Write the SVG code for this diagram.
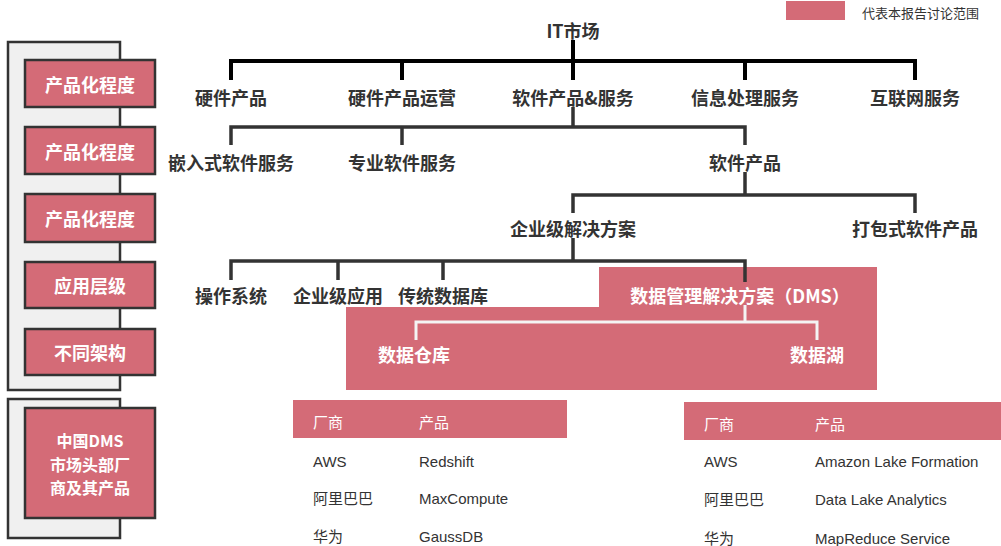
<svg xmlns="http://www.w3.org/2000/svg" width="1001" height="546" viewBox="0 0 1001 546">
<style>
.t{font-family:"Noto Sans CJK SC","Liberation Sans",sans-serif;font-size:18px;font-weight:bold;fill:#333;text-anchor:middle;dominant-baseline:central}
.w{fill:#fff}
.s{font-size:16px}
.tb{font-family:"Liberation Sans","Noto Sans CJK SC",sans-serif;font-size:15px;fill:#333;dominant-baseline:central}
.th{fill:#fff}
.red{fill:#d46b77}
.box{fill:#d46b77;stroke:#333;stroke-width:2.5}
.panel{fill:#f0f0f0;stroke:#333;stroke-width:2.5}
.c1{fill:none;stroke:#000;stroke-width:4}
.c2{fill:none;stroke:#333;stroke-width:3.5}
.c3{fill:none;stroke:#f4f4f4;stroke-width:3}
</style>
<rect width="1001" height="546" fill="#fff"/>
<g id="legend">
<rect class="red" x="786" y="1" width="59" height="19"/>
<text class="tb" x="862" y="12" style="font-size:13px;font-family:'Noto Sans CJK SC',sans-serif">代表本报告讨论范围</text>
</g>
<g id="left-panel">
<rect class="panel" x="8" y="42" width="112" height="348"/>
<g id="lb1"><rect class="box" x="25" y="60" width="130" height="47"/><text class="t w" x="90" y="83.5">产品化程度</text></g>
<g id="lb2"><rect class="box" x="25" y="127" width="130" height="47"/><text class="t w" x="90" y="150.5">产品化程度</text></g>
<g id="lb3"><rect class="box" x="25" y="194" width="130" height="48"/><text class="t w" x="90" y="218">产品化程度</text></g>
<g id="lb4"><rect class="box" x="25" y="262" width="130" height="46"/><text class="t w" x="90" y="285">应用层级</text></g>
<g id="lb5"><rect class="box" x="25" y="329" width="130" height="46"/><text class="t w" x="90" y="352">不同架构</text></g>
</g>
<g id="left-panel2">
<rect class="panel" x="8" y="399" width="112" height="139"/>
<g id="lb6"><rect class="box" x="25" y="408" width="130" height="110"/>
<text class="t w s" x="90" y="440">中国DMS</text><text class="t w s" x="90" y="463.5">市场头部厂</text><text class="t w s" x="90" y="487">商及其产品</text></g>
</g>
<g id="dms-area">
<path class="red" d="M599,267 H877 V390 H346 V307 H599 Z"/>
</g>
<g id="connectors">
<path class="c1" d="M573,40 V61 M231,80 V61 H915 V80 M402,61 V80 M573,61 V80 M745,61 V80"/>
<path class="c2" d="M573,107 V127 M231,145 V127 H745 V145 M402,127 V145"/>
<path class="c2" d="M745,172 V195 M573,213 V195 H915 V213"/>
<path class="c2" d="M573,238 V261 M231,280 V261 H745 V282 M338,261 V280 M443,261 V280"/>
<path class="c3" d="M745,305 V322 M416,340 V322 H817 V340"/>
</g>
<g id="n-it"><text class="t" x="573" y="30">IT市场</text></g>
<g id="n-hw"><text class="t" x="231" y="97">硬件产品</text></g>
<g id="n-hwop"><text class="t" x="402" y="97">硬件产品运营</text></g>
<g id="n-sws"><text class="t" x="573" y="97">软件产品&amp;服务</text></g>
<g id="n-info"><text class="t" x="745" y="97">信息处理服务</text></g>
<g id="n-net"><text class="t" x="915" y="97">互联网服务</text></g>
<g id="n-emb"><text class="t" x="231" y="162">嵌入式软件服务</text></g>
<g id="n-pro"><text class="t" x="402" y="162">专业软件服务</text></g>
<g id="n-swp"><text class="t" x="745" y="162">软件产品</text></g>
<g id="n-ent"><text class="t" x="573" y="228">企业级解决方案</text></g>
<g id="n-pkg"><text class="t" x="915" y="228">打包式软件产品</text></g>
<g id="n-os"><text class="t" x="231" y="295">操作系统</text></g>
<g id="n-app"><text class="t" x="338" y="295">企业级应用</text></g>
<g id="n-db"><text class="t" x="443" y="295">传统数据库</text></g>
<g id="n-dms"><text class="t w" x="740" y="295">数据管理解决方案（DMS）</text></g>
<g id="n-dw"><text class="t w" x="414" y="354">数据仓库</text></g>
<g id="n-dl"><text class="t w" x="817" y="354">数据湖</text></g>
<g id="table-left">
<rect class="red" x="293" y="400" width="274" height="38"/>
<text class="tb th" x="313" y="422">厂商</text><text class="tb th" x="419" y="422">产品</text>
<text class="tb" x="313" y="461">AWS</text><text class="tb" x="419" y="461">Redshift</text>
<text class="tb" x="313" y="498">阿里巴巴</text><text class="tb" x="419" y="498">MaxCompute</text>
<text class="tb" x="313" y="536">华为</text><text class="tb" x="419" y="536">GaussDB</text>
</g>
<g id="table-right">
<rect class="red" x="684" y="402" width="317" height="38"/>
<text class="tb th" x="704" y="424">厂商</text><text class="tb th" x="815" y="424">产品</text>
<text class="tb" x="704" y="461">AWS</text><text class="tb" x="815" y="461">Amazon Lake Formation</text>
<text class="tb" x="704" y="499">阿里巴巴</text><text class="tb" x="815" y="499">Data Lake Analytics</text>
<text class="tb" x="704" y="538">华为</text><text class="tb" x="815" y="538">MapReduce Service</text>
</g>
</svg>
